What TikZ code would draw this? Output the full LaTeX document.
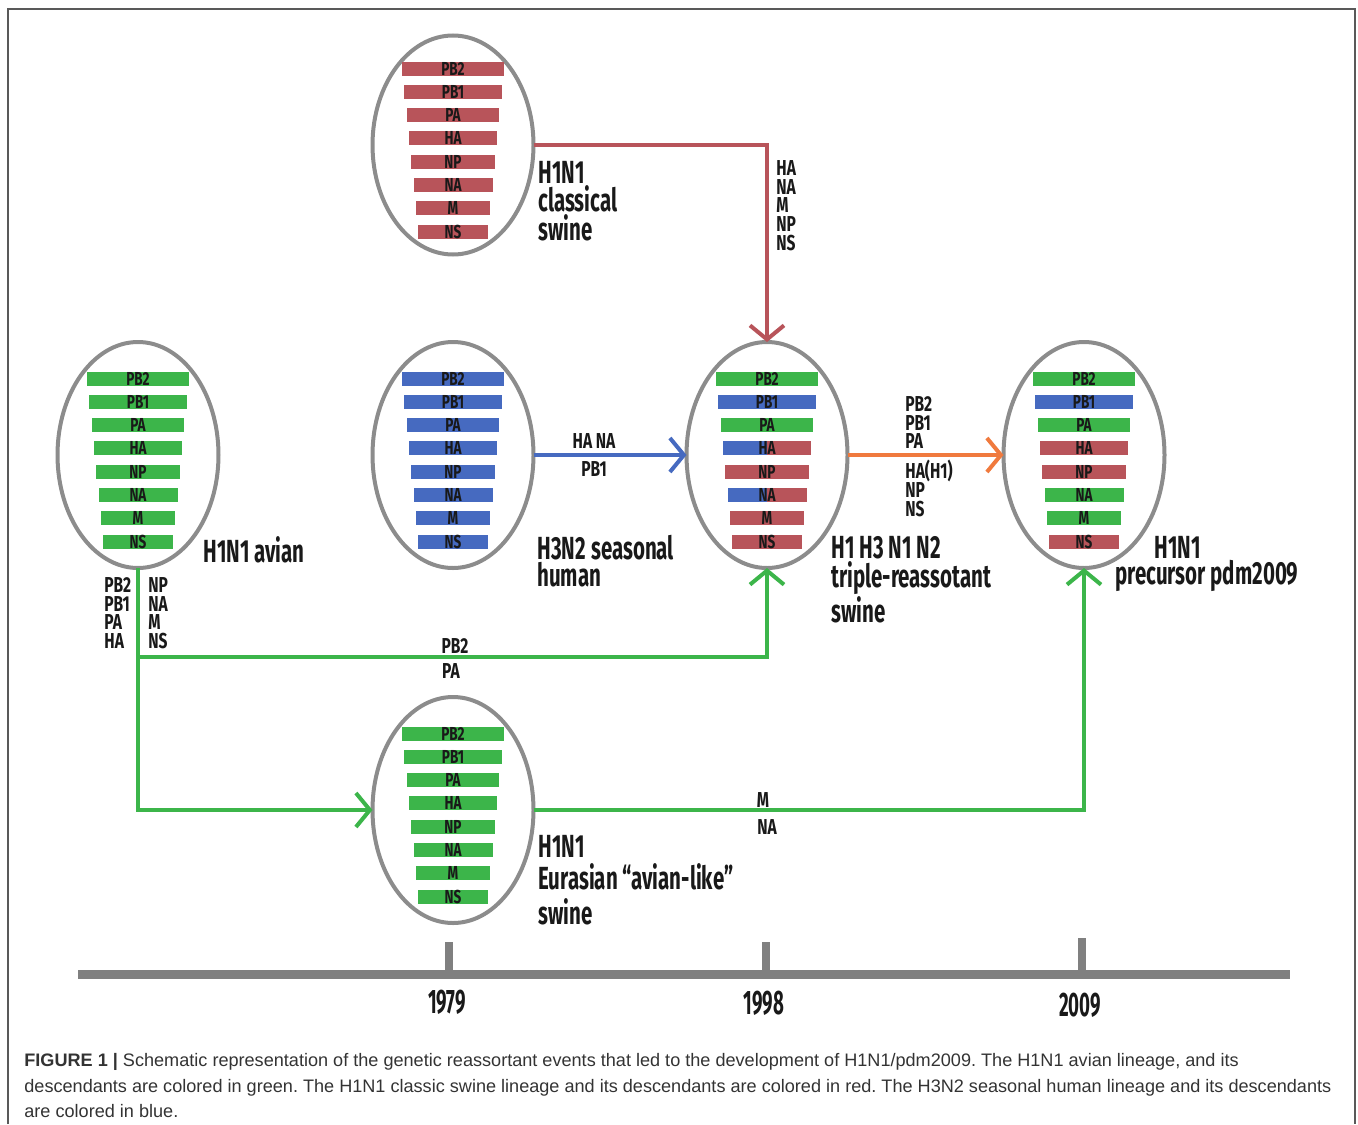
\documentclass[tikz,border=0pt]{standalone}
\usepackage{fontspec}
\setmainfont{Liberation Sans}
\newfontfamily\condfont[FakeStretch=0.72]{Fira Sans}
\newfontfamily\namefont[FakeStretch=0.64]{Fira Sans}
\newfontfamily\yearfont[FakeStretch=0.55]{Fira Sans}
\usetikzlibrary{arrows.meta, shapes.geometric, calc}

\definecolor{vred}{RGB}{184,84,90}
\definecolor{vgreen}{RGB}{60,181,74}
\definecolor{vblue}{RGB}{70,106,192}
\definecolor{vorange}{RGB}{240,122,62}
\definecolor{shell}{RGB}{140,140,140}
\definecolor{axis}{RGB}{128,128,128}

\tikzset{
    virion/.style={ellipse, draw=shell, line width=2pt, inner sep=0pt, outer sep=0pt,
        minimum width=80.5pt, minimum height=113pt},
    gene/.style={font=\condfont\bfseries\fontsize{9.4}{9.4}\selectfont, text=black!90, inner sep=0pt},
    tag/.style={font=\condfont\bfseries\fontsize{10.8}{9.4}\selectfont, text=black!90, inner sep=0pt},
    tags/.style={tag, align=left, anchor=north west},
    strain/.style={font=\namefont\bfseries\fontsize{16}{11.8}\selectfont, text=black!90,
        align=left, anchor=north west, inner sep=0pt},
    flow/.style={line width=2pt, -{Straight Barb[length=7pt, width=17pt, line width=2pt]}},
    year/.style={font=\yearfont\bfseries\fontsize{17}{17}\selectfont, text=black!90, inner sep=0pt}
}

% eight segments: name/left colour/right colour
\newcommand{\segments}[2]{%
    \foreach \g/\cl/\cr [count=\i from 0] in {#2} {
        \pgfmathsetmacro{\hw}{51-2.3*\i}
        \pgfmathsetmacro{\dy}{-76.5+23.3*\i}
        \fill[\cl] ($(#1)+(-\hw,\dy-7)$) rectangle ($(#1)+(0,\dy+7)$);
        \fill[\cr] ($(#1)+(0,\dy-7)$) rectangle ($(#1)+(\hw,\dy+7)$);
        \node[gene] (#1-\g) at ($(#1)+(0,\dy)$) {\g};
    }%
}

\begin{document}
\begin{tikzpicture}[x=0.5pt, y=-0.5pt]
    \useasboundingbox (0,0) rectangle (1358,1124);
    \draw[line width=1pt, black!65] (8,1124) -- (8,9) -- (1355,9) -- (1355,1124);

    % strains
    \node[virion, minimum height=109.5pt] (classic) at (453,145) {};
    \node[virion] (avian) at (138,455) {};
    \node[virion] (human) at (453,455) {};
    \node[virion] (triple) at (767,455) {};
    \node[virion] (pdm) at (1084,455) {};
    \node[virion] (eurasian) at (453,810) {};

    \segments{classic}{PB2/vred/vred, PB1/vred/vred, PA/vred/vred, HA/vred/vred,
        NP/vred/vred, NA/vred/vred, M/vred/vred, NS/vred/vred}
    \segments{avian}{PB2/vgreen/vgreen, PB1/vgreen/vgreen, PA/vgreen/vgreen, HA/vgreen/vgreen,
        NP/vgreen/vgreen, NA/vgreen/vgreen, M/vgreen/vgreen, NS/vgreen/vgreen}
    \segments{human}{PB2/vblue/vblue, PB1/vblue/vblue, PA/vblue/vblue, HA/vblue/vblue,
        NP/vblue/vblue, NA/vblue/vblue, M/vblue/vblue, NS/vblue/vblue}
    \segments{triple}{PB2/vgreen/vgreen, PB1/vblue/vblue, PA/vgreen/vgreen, HA/vblue/vred,
        NP/vred/vred, NA/vblue/vred, M/vred/vred, NS/vred/vred}
    \segments{pdm}{PB2/vgreen/vgreen, PB1/vblue/vblue, PA/vgreen/vgreen, HA/vred/vred,
        NP/vred/vred, NA/vgreen/vgreen, M/vgreen/vgreen, NS/vred/vred}
    \segments{eurasian}{PB2/vgreen/vgreen, PB1/vgreen/vgreen, PA/vgreen/vgreen, HA/vgreen/vgreen,
        NP/vgreen/vgreen, NA/vgreen/vgreen, M/vgreen/vgreen, NS/vgreen/vgreen}

    \node[strain] (classic-name) at (538,161) {H1N1\\classical\\swine};
    \node[strain] (avian-name) at (203,536) {H1N1 avian};
    \node[strain] (human-name) at (537,535) {H3N2\,seasonal\\human};
    \node[strain] (triple-name) at (831,536) {H1 H3 N1 N2\\triple-reassotant\\swine};
    \node[strain] (pdm-name) at (1115,536) {\hspace*{19.5pt}H1N1\\precursor pdm2009};
    \node[strain] (eurasian-name) at (538,835) {H1N1\\[2pt]Eurasian “avian-like”\\[3pt]swine};

    % reassortment
    \coordinate (fork) at (138,657);
    \draw[flow, vred] (classic.east) -| (triple.north);
    \draw[flow, vblue] (human.east) -- (triple.west);
    \draw[flow, vorange] (triple.east) -- (pdm.west);
    \draw[flow, vgreen] (avian.south) |- (eurasian.west);
    \draw[flow, vgreen] (fork) -| (triple.south);
    \draw[flow, vgreen] (eurasian.east) -| (pdm.south);

    \node[tags] (red-genes) at (776,160) {HA\\NA\\M\\NP\\NS};
    \node[tag] (blue-top) at (594,441) {HA NA};
    \node[tag] (blue-bot) at (594,469) {PB1};
    \node[tags] (orange-top) at (905,396) {PB2\\PB1\\PA};
    \node[tags] (orange-bot) at (905,460) {HA(H1)\\NP\\NS};
    \node[tags] (avian-left) at (104,577) {PB2\\PB1\\PA\\HA};
    \node[tags] (avian-right) at (148,577) {NP\\NA\\M\\NS};
    \node[tag] (fork-top) at (455,646) {PB2};
    \node[tag] (fork-bot) at (451,671) {PA};
    \node[tag] (eur-top) at (763,800) {M};
    \node[tag] (eur-bot) at (767,827) {NA};

    % timeline
    \draw[line width=4.5pt, axis] (78,974) -- (1290,974);
    \foreach \x/\t in {449/942, 766/942, 1082/938}
        \draw[line width=4pt, axis] (\x,\t) -- (\x,972);
    \node[year] (y1979) at (447,1002) {1979};
    \node[year] (y1998) at (764,1003) {1998};
    \node[year] (y2009) at (1080,1005) {2009};

    \node[anchor=north west, align=left, inner sep=0pt, text=black!80,
        font=\frenchspacing\fontsize{9.05}{12.75}\selectfont] (caption) at (24,1053)
        {\textbf{FIGURE 1 |} Schematic representation of the genetic reassortant events that led to the development of H1N1/pdm2009. The H1N1 avian lineage, and its\\
        descendants are colored in green. The H1N1 classic swine lineage and its descendants are colored in red. The H3N2 seasonal human lineage and its descendants\\
        are colored in blue.};
\end{tikzpicture}
\end{document}
